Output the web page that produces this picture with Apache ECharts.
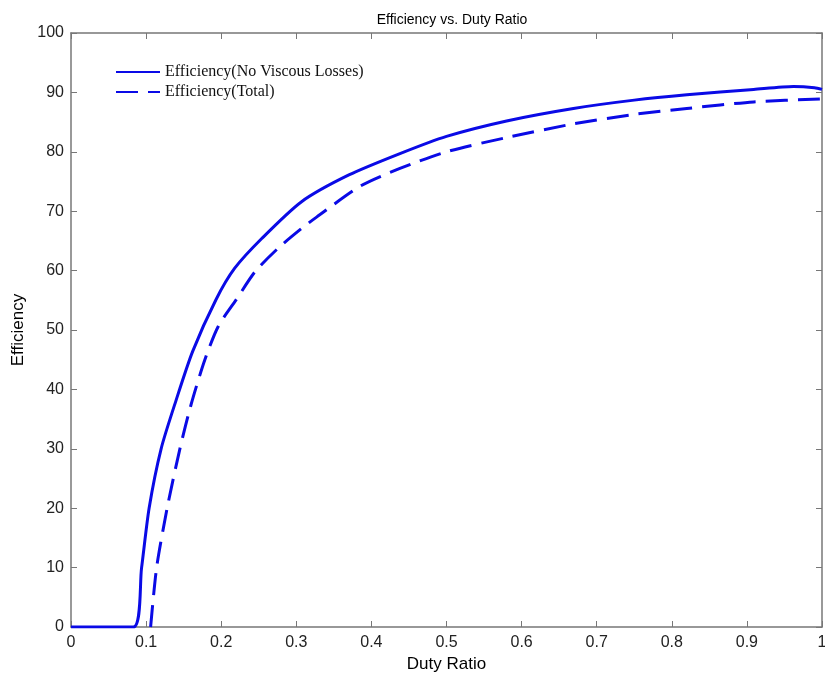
<!DOCTYPE html>
<html>
<head>
<meta charset="utf-8">
<script src="https://cdn.jsdelivr.net/npm/echarts@6/dist/echarts.min.js"></script>
<style>html,body{margin:0;padding:0;background:#fff}#c{width:825px;height:675px}</style>
</head>
<body>
<div id="c"></div>
<script>
const titleText = 'Efficiency vs. Duty Ratio';
const xName = 'Duty Ratio';
const yName = 'Efficiency';
const seriesNames = ['Efficiency(No Viscous Losses)', 'Efficiency(Total)'];

const solidX = [0, 0.083, 0.094, 0.104, 0.12, 0.14, 0.162, 0.193, 0.218, 0.254, 0.307, 0.37, 0.438, 0.5, 0.58, 0.669, 0.75, 0.82, 0.909, 0.962, 0.99, 1.0];
const solidY = [0, 0, 10, 20, 30, 38.2, 46.4, 55.1, 60.4, 65.4, 71.6, 76.1, 79.7, 82.6, 85.2, 87.3, 88.7, 89.6, 90.5, 91.0, 90.8, 90.5];

const dashX = [0.106, 0.114, 0.128, 0.145, 0.16, 0.178, 0.196, 0.22, 0.245, 0.276, 0.307, 0.327, 0.385, 0.438, 0.5, 0.58, 0.669, 0.75, 0.82, 0.909, 1.0];
const dashY = [0, 10, 20, 30, 37.5, 44.9, 50.6, 55.1, 59.8, 63.8, 67.1, 69.0, 74.2, 77.2, 80.0, 82.4, 84.7, 86.3, 87.3, 88.4, 88.9];

const xTicks = ['0', '0.1', '0.2', '0.3', '0.4', '0.5', '0.6', '0.7', '0.8', '0.9', '1'];
const yTicks = ['0', '10', '20', '30', '40', '50', '60', '70', '80', '90', '100'];

const pairs = (xs, ys) => xs.map((x, i) => [x, ys[i]]);
const axisColor = '#777';
const lineColor = '#0a0ae6';

const axisBase = {
  axisLine: {show: true, onZero: false, lineStyle: {color: axisColor, width: 1.5}},
  axisTick: {show: true, inside: true, length: 6, lineStyle: {color: axisColor}},
  splitLine: {show: false}
};

const chart = echarts.init(document.getElementById('c'), null, {renderer: 'canvas'});
chart.setOption({
  backgroundColor: '#fff',
  animation: false,
  title: {
    text: titleText, left: 447, top: 8, textAlign: 'center',
    textStyle: {fontFamily: 'Liberation Sans, Arial', fontSize: 14, fontWeight: 'normal', color: '#000'}
  },
  legend: {
    orient: 'vertical', left: 110, top: 59, itemGap: 4,
    itemWidth: 44, itemHeight: 16,
    itemStyle: {opacity: 0},
    textStyle: {fontFamily: 'Liberation Serif, Times New Roman', fontSize: 16, color: '#111'},
    data: seriesNames
  },
  grid: {left: 71, right: 3, top: 33, bottom: 48, containLabel: false, outerBoundsMode: 'none'},
  xAxis: [Object.assign({
    type: 'value', min: 0, max: 1, interval: 0.1, position: 'bottom',
    name: xName, nameLocation: 'middle', nameGap: 28,
    nameTextStyle: {fontFamily: 'Liberation Sans, Arial', fontSize: 17, color: '#000'},
    axisLabel: {margin: 8, fontFamily: 'Liberation Sans, Arial', fontSize: 16, color: '#222',
      formatter: v => xTicks[Math.round(v * 10)]}
  }, axisBase), Object.assign({
    type: 'value', min: 0, max: 1, interval: 0.1, position: 'top',
    axisLabel: {show: false}
  }, axisBase)],
  yAxis: [Object.assign({
    type: 'value', min: 0, max: 100, interval: 10, position: 'left',
    name: yName, nameLocation: 'middle', nameGap: 43, nameRotate: 90,
    nameTextStyle: {fontFamily: 'Liberation Sans, Arial', fontSize: 17, color: '#000'},
    axisLabel: {margin: 7, fontFamily: 'Liberation Sans, Arial', fontSize: 16, color: '#222',
      formatter: v => yTicks[Math.round(v / 10)]}
  }, axisBase), Object.assign({
    type: 'value', min: 0, max: 100, interval: 10, position: 'right',
    axisLabel: {show: false}
  }, axisBase)],
  series: [{
    name: seriesNames[0], type: 'line', data: pairs(solidX, solidY),
    showSymbol: false, symbol: 'none', smooth: 0.25,
    lineStyle: {color: lineColor, width: 3, type: 'solid'},
    itemStyle: {color: lineColor}
  }, {
    name: seriesNames[1], type: 'line', data: pairs(dashX, dashY),
    showSymbol: false, symbol: 'none', smooth: 0.25,
    lineStyle: {color: lineColor, width: 3, type: [22, 10]},
    itemStyle: {color: lineColor}
  }]
});
</script>
</body>
</html>
